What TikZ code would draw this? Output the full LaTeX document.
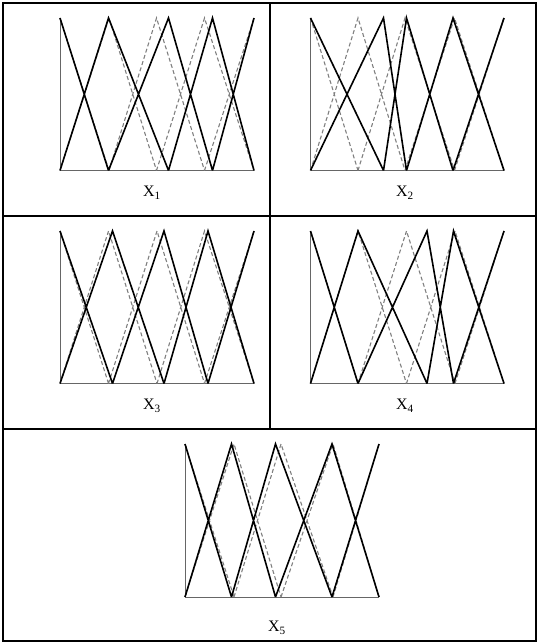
\documentclass[tikz,border=0pt]{standalone}
\usepackage{fontspec}
\setmainfont{Liberation Serif}
\begin{document}
\begin{tikzpicture}[x=1pt,y=-1pt,
  frame/.style={line width=2pt,black},
  axisline/.style={line width=0.9pt,black!60},
  mfblack/.style={line width=1.6pt,black},
  mfdash/.style={line width=1.1pt,black!50,dash pattern=on 4pt off 2.5pt},
  lab/.style={font=\fontsize{16}{16}\selectfont,inner sep=0pt}]
\useasboundingbox (0,0) rectangle (539,644);
\newcommand\mfset[8]{%
  \draw[#1] (#4,#2) -- (#5,#3) (#4,#3) -- (#5,#2) -- (#6,#3)
    (#5,#3) -- (#6,#2) -- (#7,#3) (#6,#3) -- (#7,#2) -- (#8,#3)
    (#7,#3) -- (#8,#2);}
\newcommand\axes[4]{% top bottom left right
  \draw[axisline] (#3,#2) -- (#4,#2) (#3,#2) -- (#3,#1);}
% frame
\draw[frame] (3,3) rectangle (536,641);
\draw[frame] (3,215.5) -- (536,215.5) (3,428.5) -- (536,428.5)
  (270,3) -- (270,428.5);
% panel X1
\axes{18}{170.5}{60}{254}
\mfset{mfdash}{18}{170.5}{60}{109}{156.5}{204.5}{254}
\mfset{mfblack}{18}{170.5}{60}{108.5}{168.5}{212.5}{254}
\node[lab] (l1) at (152,193) {X\textsubscript{1}};
% panel X2
\axes{18}{170.5}{310.5}{504}
\mfset{mfdash}{18}{170.5}{310.5}{358}{405}{454.5}{504}
\mfset{mfblack}{18}{170.5}{310.5}{383.5}{406.5}{453}{504}
\node[lab] (l2) at (405,193) {X\textsubscript{2}};
% panel X3
\axes{231}{383.5}{60}{254}
\mfset{mfdash}{231}{383.5}{60}{108.5}{157}{204.5}{254}
\mfset{mfblack}{231}{383.5}{60}{112.5}{164}{208}{254}
\node[lab] (l3) at (152,406) {X\textsubscript{3}};
% panel X4
\axes{231}{383.5}{310.5}{504}
\mfset{mfdash}{231}{383.5}{310.5}{358}{406.5}{455}{504}
\mfset{mfblack}{231}{383.5}{310.5}{358}{427}{453.5}{504}
\node[lab] (l4) at (405,406) {X\textsubscript{4}};
% panel X5
\axes{444}{597}{185}{379}
\mfset{mfdash}{444}{597}{185}{234}{281}{333}{379}
\mfset{mfblack}{444}{597}{185}{231.5}{275.5}{332}{379}
\node[lab] (l5) at (277,628) {X\textsubscript{5}};
\end{tikzpicture}
\end{document}
